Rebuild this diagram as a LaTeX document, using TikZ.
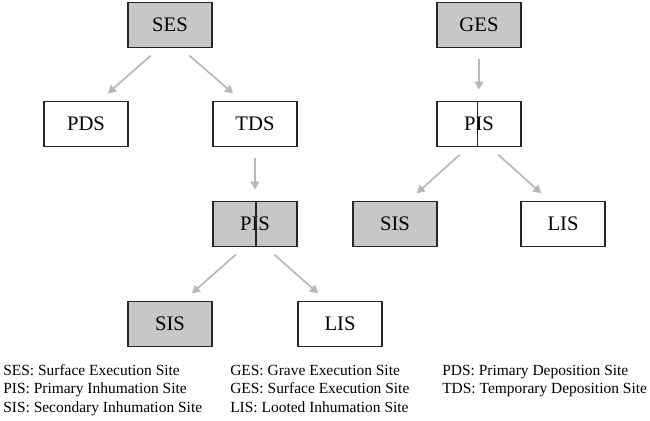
\documentclass[tikz,border=0pt]{standalone}
\usepackage{fontspec}
\setmainfont{Liberation Serif}
\usetikzlibrary{arrows.meta}
\begin{document}
\begin{tikzpicture}[x=0.75pt, y=-0.75pt,
        site/.style = {draw=black!85, line width=1.1pt, minimum width=63pt, minimum height=33.5pt,
                       inner sep=0pt, font=\fontsize{15.5}{17}\selectfont},
        grey/.style = {site, fill=black!22},
        blank/.style = {site, fill=white},
        flow/.style = {draw=black!28, line width=1.3pt, shorten <=8.5pt, shorten >=8.5pt,
                       -{Triangle[width=6.5pt,length=6pt]}},
        key/.style = {anchor=base west, inner sep=0pt, font=\fontsize{11.6}{13}\selectfont}]
    \useasboundingbox (0,0) rectangle (650,421);
    % left tree
    \node[grey]  (ses)  at (170,25)  {SES};
    \node[blank] (pds)  at (86,124)  {PDS};
    \node[blank] (tds)  at (255,124) {TDS};
    \node[grey]  (pisl) at (255,224) {PIS};
    \node[grey]  (sisl) at (170,324) {SIS};
    \node[blank] (lisl) at (340,324) {LIS};
    \draw[line width=1.1pt, draw=black!85] ([xshift=0.8pt]pisl.north) -- ([xshift=0.8pt]pisl.south);
    \draw[flow] (ses.245) -- (pds.60);
    \draw[flow] (ses.295) -- (tds.120);
    \draw[flow] (tds) -- (pisl);
    \draw[flow] (pisl.245) -- (sisl.60);
    \draw[flow] (pisl.295) -- (lisl.120);
    % right tree
    \node[grey]  (ges)  at (479,25)  {GES};
    \node[blank] (pisr) at (479,124) {PIS};
    \node[grey]  (sisr) at (395,224) {SIS};
    \node[blank] (lisr) at (563,224) {LIS};
    \draw[line width=1.1pt, draw=black!85] ([xshift=-1.2pt]pisr.north) -- ([xshift=-1.2pt]pisr.south);
    \draw[flow] (ges) -- (pisr);
    \draw[flow] (pisr.245) -- (sisr.60);
    \draw[flow] (pisr.295) -- (lisr.120);
    % legend
    \node[key] (k11) at (3,375)   {SES: Surface Execution Site};
    \node[key] (k12) at (3,393)   {PIS: Primary Inhumation Site};
    \node[key] (k13) at (3,412)   {SIS: Secondary Inhumation Site};
    \node[key] (k21) at (230,375) {GES: Grave Execution Site};
    \node[key] (k22) at (230,393) {GES: Surface Execution Site};
    \node[key] (k23) at (230,412) {LIS: Looted Inhumation Site};
    \node[key] (k31) at (442,375) {PDS: Primary Deposition Site};
    \node[key] (k32) at (442,393) {TDS: Temporary Deposition Site};
\end{tikzpicture}
\end{document}
